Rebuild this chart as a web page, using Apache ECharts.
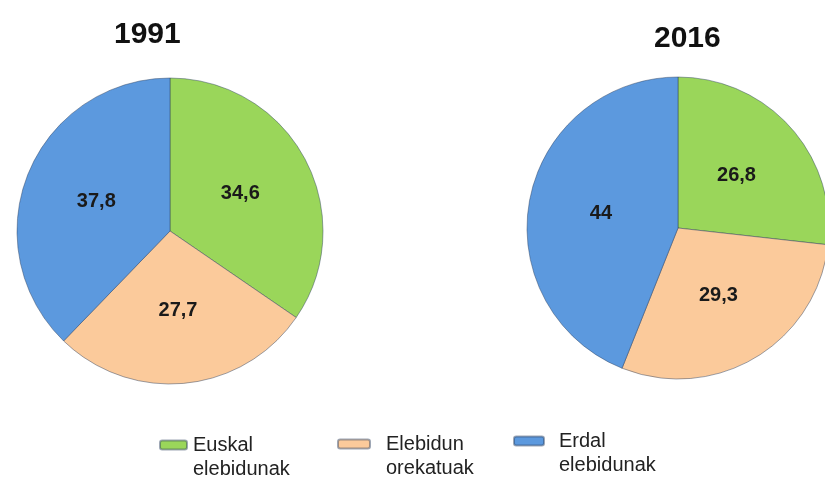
<!DOCTYPE html>
<html>
<head>
<meta charset="utf-8">
<script src="https://cdn.jsdelivr.net/npm/echarts@6/dist/echarts.min.js"></script>
<style>
  html, body { margin: 0; padding: 0; background: #fff; }
  #chart { width: 825px; height: 480px; }
</style>
</head>
<body>
<div id="chart"></div>
<script>
(function() {
    var myChart = echarts.init(document.getElementById("chart"));

    // datuak
    var categories = ["Euskal\nelebidunak", "Elebidun\norekatuak", "Erdal\nelebidunak"];
    var years = ["1991", "2016"];
    var values1991 = [34.6, 27.7, 37.8];
    var values2016 = [26.8, 29.3, 44];
    var colors = ["#9AD65A", "#FBCA9B", "#5C99DE"];

    function toData(vals) {
        return vals.map(function(v, i) {
            return {
                name: categories[i],
                value: v,
                itemStyle: { color: colors[i] }
            };
        });
    }

    function fmt(p) {
        return String(p.value).replace(".", ",");
    }

    function pie(center, radius, vals) {
        return {
            type: "pie",
            center: center,
            radius: radius,
            startAngle: 90,
            clockwise: true,
            animation: false,
            silent: true,
            avoidLabelOverlap: false,
            itemStyle: { borderColor: "rgba(40,60,90,0.45)", borderWidth: 1 },
            label: {
                show: true,
                position: "inside",
                formatter: fmt,
                color: "#1a1a1a",
                fontSize: 20,
                fontWeight: "bold",
                fontFamily: "Liberation Sans"
            },
            labelLine: { show: false },
            data: toData(vals)
        };
    }

    // legend item: empty first line so the swatch sits beside the first text line
    function legendItem(i, left, top, w, gap) {
        return {
            data: [categories[i]],
            left: left,
            top: top,
            padding: 0,
            icon: "roundRect",
            itemWidth: w,
            itemHeight: 9,
            selectedMode: false,
            formatter: function(name) { return "\n" + name; },
            textStyle: {
                fontFamily: "Liberation Sans",
                fontSize: 20,
                lineHeight: 24,
                color: "#222",
                padding: [0, 0, 0, gap]
            }
        };
    }

    var option = {
        backgroundColor: "#fff",
        title: [
            {
                text: years[0], left: 114, top: 20, padding: 0,
                textStyle: { fontFamily: "Liberation Sans", fontSize: 30, fontWeight: "bold", color: "#111" }
            },
            {
                text: years[1], left: 654, top: 24, padding: 0,
                textStyle: { fontFamily: "Liberation Sans", fontSize: 30, fontWeight: "bold", color: "#111" }
            }
        ],
        legend: [
            legendItem(0, 159, 409, 27, 1),
            legendItem(1, 337, 408, 32, 11),
            legendItem(2, 513, 405, 30, 10)
        ],
        series: [
            pie([170, 231], 153, values1991),
            pie([678, 228], 151, values2016)
        ]
    };

    myChart.setOption(option);
    window.addEventListener("resize", function() {
        myChart.resize();
    });
})();
</script>
</body>
</html>
